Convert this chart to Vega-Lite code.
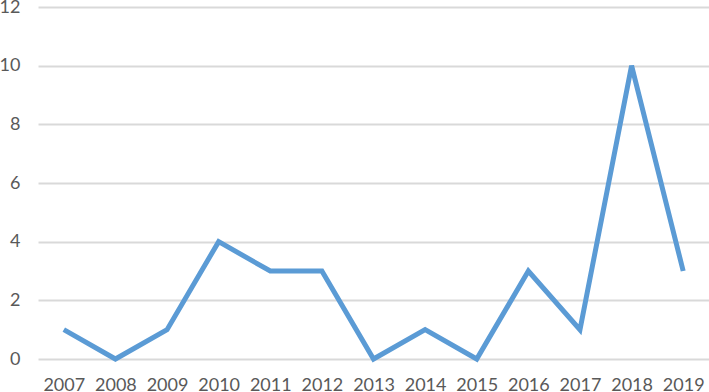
{
  "$schema": "https://vega.github.io/schema/vega-lite/v6.json",
  "width": 671,
  "height": 352,
  "autosize": {"type": "none"},
  "padding": {"left": 38, "top": 7, "right": 0, "bottom": 33},
  "background": "white",
  "config": {"view": {"stroke": null}},
  "data": {"values": [
    {"year": "2007", "count": 1},
    {"year": "2008", "count": 0},
    {"year": "2009", "count": 1},
    {"year": "2010", "count": 4},
    {"year": "2011", "count": 3},
    {"year": "2012", "count": 3},
    {"year": "2013", "count": 0},
    {"year": "2014", "count": 1},
    {"year": "2015", "count": 0},
    {"year": "2016", "count": 3},
    {"year": "2017", "count": 1},
    {"year": "2018", "count": 10},
    {"year": "2019", "count": 3}
  ]},
  "mark": {"type": "line", "color": "#5B9BD5", "strokeWidth": 5, "strokeJoin": "miter", "strokeCap": "butt"},
  "encoding": {
    "x": {
      "field": "year", "type": "ordinal", "title": null,
      "scale": {"padding": 0.5},
      "axis": {"labelAngle": 0, "domain": false, "ticks": false, "labelFont": "Lato", "labelFontSize": 18, "labelColor": "#595959", "labelPadding": 17, "grid": false}
    },
    "y": {
      "field": "count", "type": "quantitative", "title": null,
      "scale": {"domain": [0, 12], "nice": false},
      "axis": {"values": [0, 2, 4, 6, 8, 10, 12], "domain": false, "ticks": false, "labelFont": "Lato", "labelFontSize": 18, "labelColor": "#595959", "labelPadding": 18, "gridColor": "#d9d9d9", "gridWidth": 2}
    }
  }
}
